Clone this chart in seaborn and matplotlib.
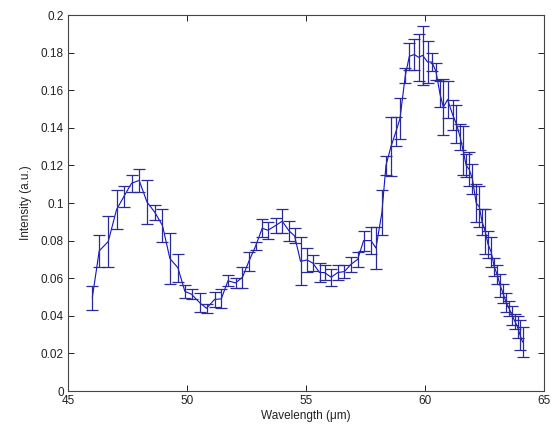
import numpy as np
import pandas as pd
import matplotlib
matplotlib.use("Agg")
import matplotlib.pyplot as plt
import seaborn as sns

wavelength = [46.02, 46.31, 46.69, 47.04, 47.35, 47.67, 47.99, 48.32, 48.65, 48.97,
              49.28, 49.62, 49.91, 50.19, 50.53, 50.82, 51.16, 51.44, 51.72, 52.04,
              52.33, 52.60, 52.88, 53.16, 53.40, 53.72, 54.00, 54.28, 54.52, 54.77,
              55.05, 55.29, 55.57, 55.78, 56.06, 56.33, 56.61, 56.90, 57.17, 57.42,
              57.73, 57.94, 58.19, 58.36, 58.57, 58.78, 58.95, 59.17, 59.34, 59.55,
              59.73, 59.90, 60.11, 60.29, 60.46, 60.63, 60.77, 60.95, 61.16, 61.32,
              61.48, 61.60, 61.73, 61.85, 61.99, 62.15, 62.28, 62.40, 62.53, 62.65,
              62.78, 62.91, 63.03, 63.16, 63.28, 63.41, 63.53, 63.66, 63.78, 63.89,
              63.99, 64.10]
intensity = [0.0495, 0.0745, 0.0795, 0.0965, 0.1035, 0.1105, 0.1120, 0.1005, 0.0950, 0.0880,
             0.0705, 0.0655, 0.0530, 0.0515, 0.0470, 0.0440, 0.0487, 0.0490, 0.0586, 0.0575,
             0.0605, 0.0690, 0.0770, 0.0866, 0.0855, 0.0880, 0.0903, 0.0853, 0.0825, 0.0690,
             0.0697, 0.0680, 0.0630, 0.0630, 0.0605, 0.0630, 0.0635, 0.0675, 0.0700, 0.0800,
             0.0800, 0.0760, 0.0950, 0.1200, 0.1300, 0.1380, 0.1450, 0.1676, 0.1780, 0.1790,
             0.1775, 0.1785, 0.1750, 0.1750, 0.1700, 0.1580, 0.1510, 0.1550, 0.1470, 0.1420,
             0.1350, 0.1280, 0.1200, 0.1180, 0.1130, 0.1000, 0.0980, 0.0900, 0.0850, 0.0780,
             0.0740, 0.0660, 0.0620, 0.0560, 0.0520, 0.0470, 0.0440, 0.0400, 0.0370, 0.0340,
             0.0300, 0.0260]
error = [0.0065, 0.0085, 0.0135, 0.0105, 0.0055, 0.0045, 0.0060, 0.0115, 0.0040, 0.0090,
         0.0135, 0.0075, 0.0035, 0.0025, 0.0050, 0.0025, 0.0040, 0.0050, 0.0030, 0.0025,
         0.0055, 0.0050, 0.0022, 0.0047, 0.0045, 0.0040, 0.0063, 0.0053, 0.0040, 0.0128,
         0.0062, 0.0044, 0.0050, 0.0040, 0.0045, 0.0040, 0.0035, 0.0040, 0.0040, 0.0053,
         0.0072, 0.0110, 0.0120, 0.0050, 0.0155, 0.0075, 0.0110, 0.0040, 0.0070, 0.0080,
         0.0125, 0.0155, 0.0110, 0.0050, 0.0045, 0.0070, 0.0150, 0.0100, 0.0080, 0.0100,
         0.0070, 0.0130, 0.0060, 0.0090, 0.0080, 0.0100, 0.0110, 0.0070, 0.0120, 0.0070,
         0.0080, 0.0050, 0.0050, 0.0060, 0.0050, 0.0050, 0.0040, 0.0050, 0.0040, 0.0060,
         0.0080, 0.0080]

xticks = [45, 50, 55, 60, 65]
yticks = [0, 0.02, 0.04, 0.06, 0.08, 0.1, 0.12, 0.14, 0.16, 0.18, 0.2]
ytick_labels = ["0", "0.02", "0.04", "0.06", "0.08", "0.1", "0.12", "0.14", "0.16", "0.18", "0.2"]

df = pd.DataFrame({"wavelength": wavelength, "intensity": intensity, "error": error})

sns.set_style("white")
plt.rcParams["font.family"] = ["Liberation Sans", "DejaVu Sans"]

fig = plt.figure(figsize=(5.51, 4.32), dpi=100)
ax = fig.add_axes([68 / 551, 1 - 391 / 432, (544 - 68) / 551, (391 - 15) / 432])

line_color = "#1515b0"
sns.lineplot(data=df, x="wavelength", y="intensity", ax=ax, color="#1010d0",
             linewidth=0.8, sort=False)
ax.errorbar(df["wavelength"], df["intensity"], yerr=df["error"], fmt="none",
            ecolor="#2a2a9a", elinewidth=0.9, capsize=4.0, capthick=0.9)

ax.set_xlim(45, 65)
ax.set_ylim(0, 0.2)
ax.set_xticks(xticks)
ax.set_xticklabels([str(t) for t in xticks])
ax.set_yticks(yticks)
ax.set_yticklabels(ytick_labels)
ax.tick_params(direction="in", length=4, width=0.7, colors="#222222",
               labelsize=8.5, top=True, right=True, bottom=True, left=True, pad=3)
ax.tick_params(axis="x", labelcolor="#222222")
for s in ax.spines.values():
    s.set_visible(True)
    s.set_color("#444444")
    s.set_linewidth(0.8)
ax.set_xlabel("Wavelength (\u03bcm)", fontsize=8.5, color="#222222", labelpad=2)
ax.set_ylabel("Intensity (a.u.)", fontsize=8.5, color="#222222", labelpad=6)

fig.savefig("out.png", dpi=100, facecolor="white")
